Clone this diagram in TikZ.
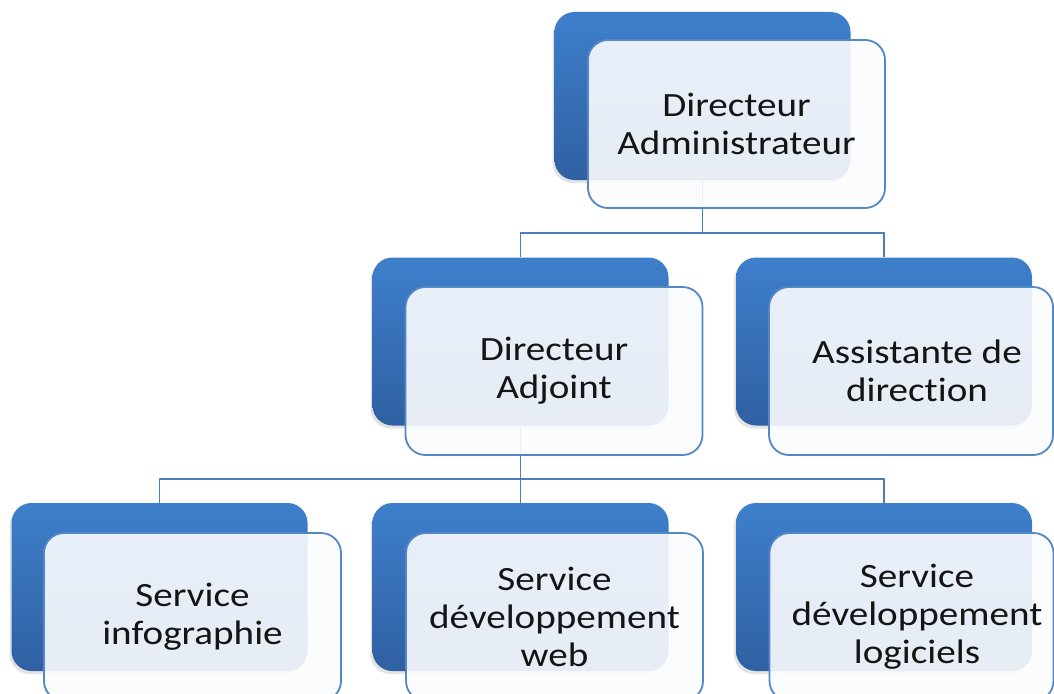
\documentclass[tikz,border=0pt]{standalone}
\usepackage{fontspec}
\setmainfont{Carlito}[FakeStretch=1.15, Ligatures={NoCommon}]
\usetikzlibrary{shadows,calc}
\definecolor{bluetop}{RGB}{62,127,203}
\definecolor{bluebot}{RGB}{47,96,162}
\definecolor{frontfill}{RGB}{251,252,254}
\definecolor{frontline}{RGB}{84,135,198}
\definecolor{connline}{RGB}{76,126,186}
\begin{document}
\begin{tikzpicture}[x=1pt,y=-1pt,
  backbox/.style={rounded corners=20pt, minimum width=296pt, minimum height=168pt, inner sep=0pt,
    top color=bluetop, bottom color=bluebot, draw=none,
    drop shadow={shadow xshift=-2pt, shadow yshift=-3pt, opacity=0.22}},
  frontbox/.style={rounded corners=20pt, minimum width=297pt, minimum height=168pt, inner sep=0pt,
    fill=frontfill, fill opacity=0.9, draw=frontline, line width=1.8pt},
  frontboxR/.style={frontbox, minimum width=284pt},
  lbl/.style={align=center, font=\fontsize{34}{38}\selectfont, text=black!92, inner sep=0pt},
  conn/.style={draw=connline, line width=1.8pt}]
\path[use as bounding box, clip] (0,0) rectangle (1054,693);
\fill[white] (0,0) rectangle (1054,693);
% back boxes
\node[backbox] (tb)  at (702.5,96) {};
\node[backbox] (mlb) at (520.5,341.5) {};
\node[backbox] (mrb) at (884,341.5) {};
\node[backbox] (blb) at (159.5,587) {};
\node[backbox] (bmb) at (520.5,587) {};
\node[backbox] (brb) at (884,587) {};
% connectors
\coordinate (bus1) at (702.5,233);
\coordinate (bus2) at (520.5,479);
\draw[conn] (tb.south) -- (bus1);
\draw[conn] (mlb.north) |- (bus1) -| (mrb.north);
\draw[conn] (mlb.south) -- (bus2);
\draw[conn] (blb.north) |- (bus2) -| (brb.north);
\draw[conn] (bus2) -- (bmb.north);
% front boxes
\node[frontbox]  (tf)  at (736.5,124) {};
\node[frontbox]  (mlf) at (554,371) {};
\node[frontboxR] (mrf) at (911,371) {};
\node[frontbox]  (blf) at (192.5,617) {};
\node[frontbox]  (bmf) at (554.5,617) {};
\node[frontboxR] (brf) at (911.5,617) {};
% labels
\node[lbl] (tt)  at (736.5,124) {Directeur\\Administrateur};
\node[lbl] (mlt) at (554,371) {Directeur\\Adjoint};
\node[lbl] (mrt) at (917,371) {Assistante de\\direction};
\node[lbl] (blt) at (192.5,617) {Service\\infographie};
\node[lbl] (bmt) at (554.5,617) {Service\\développement\\web};
\node[lbl] (brt) at (917,617) {Service\\développement\\logiciels};
\end{tikzpicture}
\end{document}
